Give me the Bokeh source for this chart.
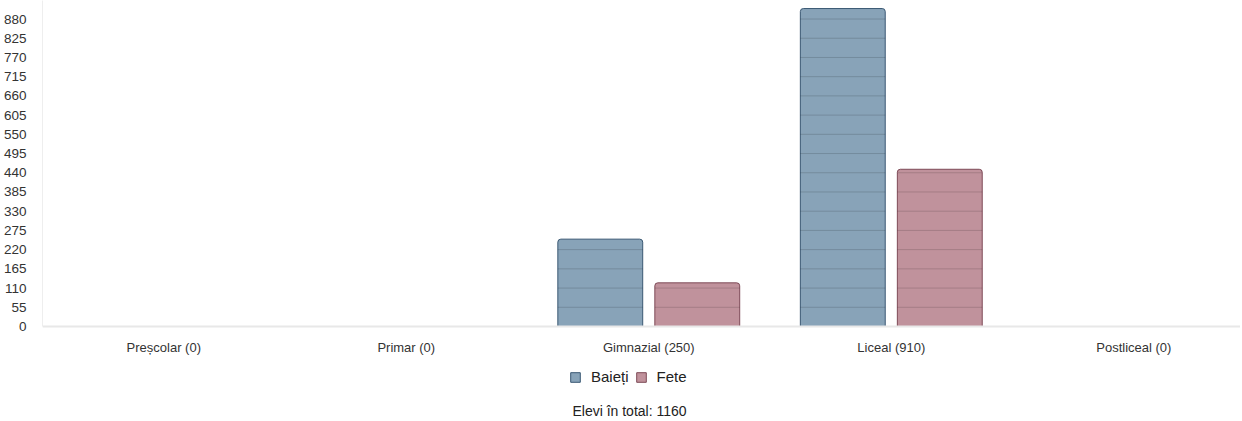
from bokeh.plotting import figure
from bokeh.models import (Range1d, FixedTicker, Legend, LegendItem, Label,
                          Span, ColumnDataSource)
from bokeh.core.properties import value
from bokeh.embed import file_html
from bokeh.resources import INLINE

# ---- data ----
categories = ["Preșcolar", "Primar", "Gimnazial", "Liceal", "Postliceal"]
category_counts = [0, 0, 250, 910, 0]
baieti = [0, 0, 250, 910, 0]
fete = [0, 0, 125, 450, 0]
series_names = ["Baieți", "Fete"]
total_label = "Elevi în total: 1160"
y_step = 55
y_top_tick = 880
y_ticks = list(range(0, y_top_tick + 1, y_step))

FONT = "Liberation Sans"
BLUE_FILL, BLUE_LINE = "#88a3b8", "#3a5873"
PINK_FILL, PINK_LINE = "#c0929c", "#7e4a57"

centers = [i + 0.5 for i in range(len(categories))]
cat_labels = [f"{n} ({v})" for n, v in zip(categories, category_counts)]

W, H = 1240, 420
LEFT = 42
Y_END, Y_START = 933, -269
p = figure(width=W, height=H,
           x_range=Range1d(0, 4.94), y_range=Range1d(Y_START, Y_END),
           output_backend="svg", toolbar_location=None,
           min_border_left=LEFT, min_border_right=0, min_border_top=0,
           min_border_bottom=0)
p.outline_line_color = None
p.xgrid.visible = False
p.ygrid.visible = False
p.xaxis.visible = False
p.background_fill_color = "white"
p.border_fill_color = "white"

# baseline
p.add_layout(Span(location=0, dimension="width", line_color="#e8e8e8",
                  line_width=2))

offset, bw = 0.2, 0.35
renderers = []
for vals, sgn, fill, line in [(baieti, -1, BLUE_FILL, BLUE_LINE),
                              (fete, 1, PINK_FILL, PINK_LINE)]:
    xs = [c + sgn * offset for c, v in zip(centers, vals) if v > 0]
    ts = [v for v in vals if v > 0]
    src = ColumnDataSource(dict(x=xs, top=ts))
    r = p.vbar(x="x", top="top", width=bw, bottom=0, source=src,
               fill_color=fill, line_color=line, line_width=1,
               border_radius=(3, 3, 0, 0))
    renderers.append(r)
    # horizontal grid lines visible inside the bars
    x0s, x1s, ys = [], [], []
    for x, t in zip(xs, ts):
        for k in y_ticks:
            if 0 < k < t:
                x0s.append(x - bw / 2)
                x1s.append(x + bw / 2)
                ys.append(k)
    p.segment(x0=x0s, y0=ys, x1=x1s, y1=ys, line_color="black",
              line_alpha=0.15, line_width=1)

# category labels under the baseline
p.text(x=centers, y=[0] * len(centers), text=cat_labels, y_offset=21,
       text_align="center", text_baseline="middle",
       text_font=value(FONT), text_font_size="13px", text_color="#333333")

# y axis
p.yaxis.ticker = FixedTicker(ticks=y_ticks)
p.yaxis.bounds = (0, Y_END)
p.yaxis.major_tick_line_color = None
p.yaxis.minor_tick_line_color = None
p.yaxis.axis_line_color = "#eeeeee"
p.yaxis.major_label_text_font = FONT
p.yaxis.major_label_text_font_size = "13.5px"
p.yaxis.major_label_text_color = "#333333"
p.yaxis.major_label_standoff = 10

legend = Legend(items=[LegendItem(label=n, renderers=[r])
                       for n, r in zip(series_names, renderers)],
                orientation="horizontal", location=(527, 35),
                label_text_font=FONT, label_text_font_size="15px",
                label_text_color="#222222", glyph_width=12, glyph_height=12,
                label_standoff=10, spacing=6, padding=5, margin=0,
                label_height=17,
                border_line_color=None, background_fill_alpha=0)
p.add_layout(legend, "center")

p.add_layout(Label(x=587, y=10, x_units="screen", y_units="screen",
                   text=total_label, text_align="center",
                   text_baseline="middle", text_font=FONT,
                   text_font_size="14px", text_color="#222222"))

open("out.html", "w").write(file_html(p, INLINE))
